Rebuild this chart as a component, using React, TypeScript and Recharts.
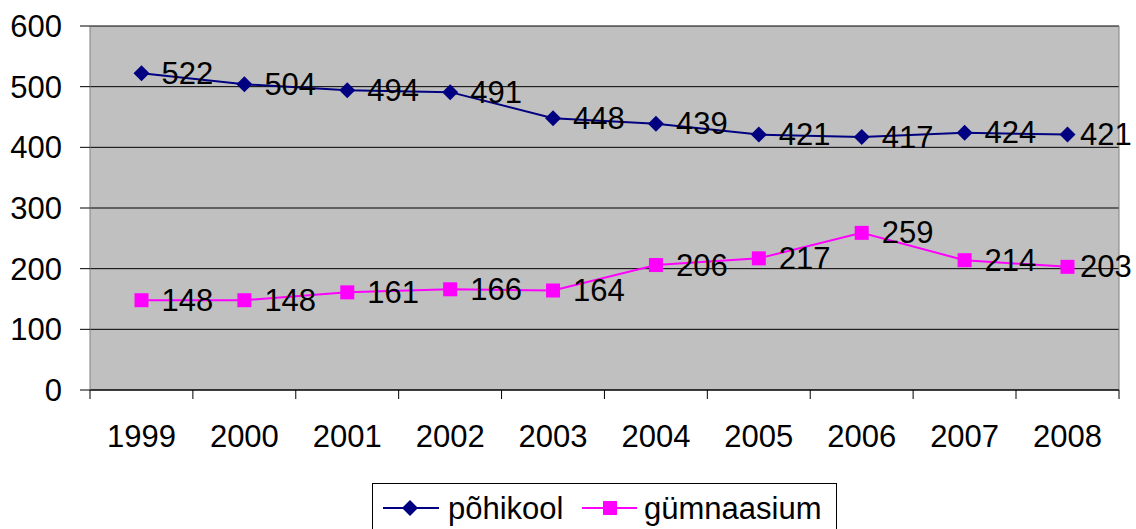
import { LineChart, Line, XAxis, YAxis, CartesianGrid, LabelList } from 'recharts';

const years = ['1999', '2000', '2001', '2002', '2003', '2004', '2005', '2006', '2007', '2008'];
const pohikool = [522, 504, 494, 491, 448, 439, 421, 417, 424, 421];
const gymnaasium = [148, 148, 161, 166, 164, 206, 217, 259, 214, 203];
const yTicks = [0, 100, 200, 300, 400, 500, 600];

const NAVY = '#000080';
const MAGENTA = '#FF00FF';
const FONT = '"Liberation Sans", Arial, sans-serif';
const HALF_BAND = 51.5;

const chartData = years.map((year, i) => ({
  year,
  pohikool: pohikool[i],
  gymnaasium: gymnaasium[i],
}));

const Diamond = ({ cx, cy }: any) => {
  if (cx == null || cy == null) return null;
  const r = 8;
  return <polygon points={`${cx},${cy - r} ${cx + r},${cy} ${cx},${cy + r} ${cx - r},${cy}`} fill={NAVY} />;
};

const Square = ({ cx, cy }: any) => {
  if (cx == null || cy == null) return null;
  return <rect x={cx - 7} y={cy - 7} width={14} height={14} fill={MAGENTA} />;
};

// labels sit right of the point; pulled in a bit near the right edge so they stay visible
const ValueLabel = ({ x, y, value }: any) => (
  <text x={Math.min(x + 20, 1080)} y={y} dominantBaseline="central" fontSize={31} fontFamily={FONT} fill="#000">
    {value}
  </text>
);

const YearTick = ({ x, y, payload, index }: any) => (
  <g>
    <line x1={x - HALF_BAND} y1={y} x2={x - HALF_BAND} y2={y + 9} stroke="#000" />
    {index === years.length - 1 && (
      <line x1={x + HALF_BAND} y1={y} x2={x + HALF_BAND} y2={y + 9} stroke="#000" />
    )}
    <text x={x} y={y + 46} textAnchor="middle" dominantBaseline="central" fontSize={31} fontFamily={FONT} fill="#000">
      {payload.value}
    </text>
  </g>
);

const LegendBox = () => (
  <div
    style={{
      position: 'absolute',
      left: 372,
      top: 483,
      width: 465,
      height: 60,
      border: '1px solid #000',
      boxSizing: 'border-box',
      fontFamily: FONT,
      fontSize: 31,
    }}
  >
    <svg width={465} height={50} style={{ position: 'absolute', left: 0, top: 0 }}>
      <line x1={10} y1={24} x2={66} y2={24} stroke={NAVY} strokeWidth={2} />
      <polygon points="37,16 45,24 37,32 29,24" fill={NAVY} />
      <text x={75} y={24} dominantBaseline="central" fontSize={31} fontFamily={FONT}>põhikool</text>
      <line x1={209} y1={24} x2={264} y2={24} stroke={MAGENTA} strokeWidth={2} />
      <rect x={230} y={17} width={14} height={14} fill={MAGENTA} />
      <text x={271} y={24} dominantBaseline="central" fontSize={31} fontFamily={FONT}>gümnaasium</text>
    </svg>
  </div>
);

export default function App() {
  return (
    <div style={{ position: 'absolute', left: 0, top: 0, width: 1136, height: 529, background: '#fff', overflow: 'hidden' }}>
      <LineChart
        width={1136}
        height={529}
        data={chartData}
        margin={{ top: 26, right: 17, left: 0, bottom: 109 }}
      >
        <CartesianGrid horizontal vertical={false} fill="#C0C0C0" stroke="#000" />
        <CartesianGrid horizontal={false} vertical verticalPoints={[1119]} stroke="#808080" />
        <XAxis
          dataKey="year"
          height={30}
          padding={{ left: HALF_BAND, right: HALF_BAND }}
          axisLine={{ stroke: '#000' }}
          tickLine={false}
          tickSize={0}
          tickMargin={0}
          interval={0}
          tick={<YearTick />}
        />
        <YAxis
          width={90}
          domain={[0, 600]}
          ticks={yTicks}
          interval={0}
          axisLine={{ stroke: '#808080' }}
          tickLine={{ stroke: '#000' }}
          tickSize={10}
          tickMargin={18}
          tick={{ fontSize: 31, fontFamily: FONT, fill: '#000' }}
        />
        <Line
          dataKey="pohikool"
          stroke={NAVY}
          strokeWidth={2}
          dot={<Diamond />}
          activeDot={false}
          isAnimationActive={false}
        >
          <LabelList dataKey="pohikool" content={<ValueLabel />} />
        </Line>
        <Line
          dataKey="gymnaasium"
          stroke={MAGENTA}
          strokeWidth={2}
          dot={<Square />}
          activeDot={false}
          isAnimationActive={false}
        >
          <LabelList dataKey="gymnaasium" content={<ValueLabel />} />
        </Line>
      </LineChart>
      <LegendBox />
    </div>
  );
}
